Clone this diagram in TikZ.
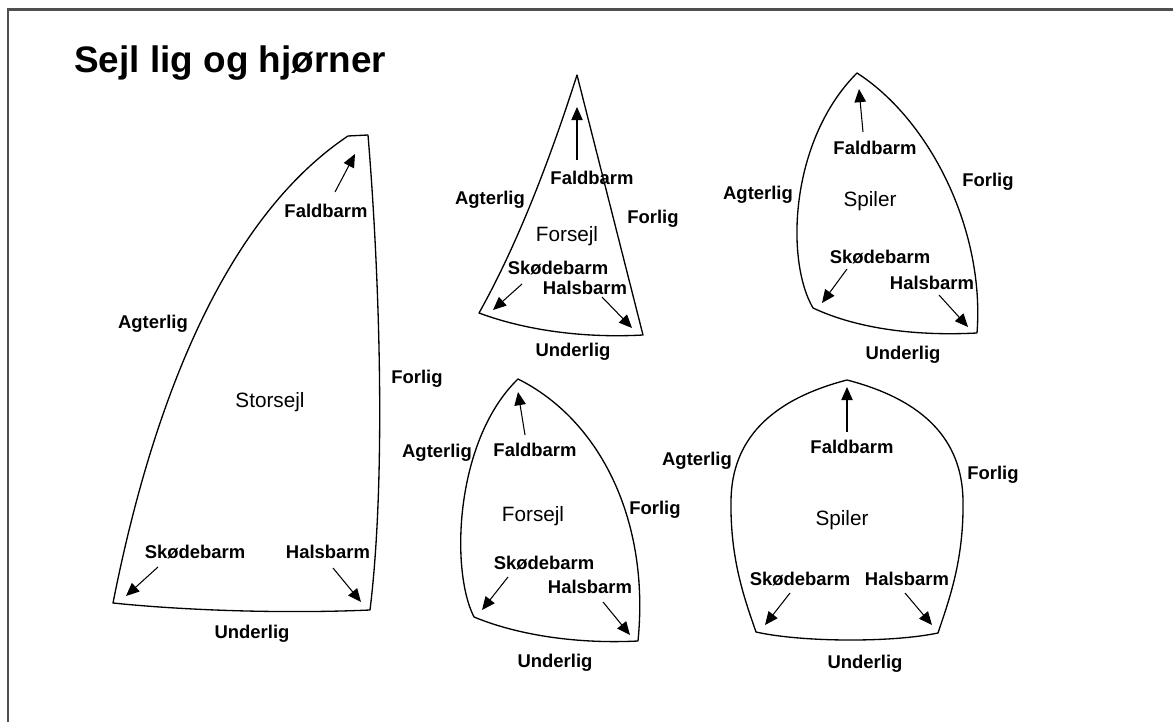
\documentclass[tikz,border=0pt]{standalone}
\usepackage{fontspec}
\setmainfont{Liberation Sans}
\usetikzlibrary{arrows.meta}
\definecolor{rahme}{HTML}{505050}
\tikzset{
  sejl/.style={draw=black, line width=0.75pt, line join=round},
  pil/.style={draw=black, line width=0.6pt, -{Triangle[length=7.5pt,width=6.5pt]}},
  lab/.style={font=\fontsize{10.5}{12}\selectfont\bfseries, inner sep=1pt, text height=7.6pt, text depth=0pt},
  navn/.style={font=\fontsize{11.8}{14}\selectfont, inner sep=1pt, text height=8.5pt, text depth=0pt},
  titel/.style={font=\fontsize{21}{25}\selectfont\bfseries, anchor=base west, inner sep=0pt},
  kant/.style={draw=rahme, line width=1.2pt},
}
\begin{document}
\begin{tikzpicture}[x=0.02cm,y=-0.02cm]
  \useasboundingbox (0,0) rectangle (1173,722);
  \draw[kant] (8,722) -- (8,9.5) -- (1173,9.5);
  \node[titel] (titel) at (74,73) {Sejl lig og hjørner};
  % hjoerner
  \coordinate (st-fb) at (348,136); \coordinate (st-fb2) at (368,135);
  \coordinate (st-hb) at (370,610); \coordinate (st-sb) at (113,603);
  \coordinate (f1-fb) at (577,75);  \coordinate (f1-hb) at (643,335); \coordinate (f1-sb) at (479,313);
  \coordinate (s1-fb) at (857,73);  \coordinate (s1-hb) at (977,333); \coordinate (s1-sb) at (813,308);
  \coordinate (f2-fb) at (518,379); \coordinate (f2-hb) at (638,641); \coordinate (f2-sb) at (474,617);
  \coordinate (s2-fb) at (847,380); \coordinate (s2-hb) at (938,633); \coordinate (s2-sb) at (756,632);
  % sejl
  \draw[sejl] (st-sb) .. controls (155,390) and (230,215) .. (st-fb) -- (st-fb2)
    .. controls (380,280) and (386,480) .. (st-hb) .. controls (280,614) and (180,610) .. (st-sb) -- cycle;
  \draw[sejl] (f1-sb) .. controls (520,240) and (553,150) .. (f1-fb) -- (f1-hb)
    .. controls (590,338) and (530,332) .. (f1-sb) -- cycle;
  \draw[sejl] (s1-sb) .. controls (785,260) and (790,140) .. (s1-fb) .. controls (930,120) and (985,230) .. (s1-hb)
    .. controls (920,336) and (860,330) .. (s1-sb) -- cycle;
  \draw[sejl] (f2-sb) .. controls (450,570) and (455,440) .. (f2-fb) .. controls (600,420) and (650,520) .. (f2-hb)
    .. controls (580,644) and (520,636) .. (f2-sb) -- cycle;
  \draw[sejl] (s2-sb) .. controls (745,600) and (730,560) .. (731,500) .. controls (732,440) and (770,400) .. (s2-fb)
    .. controls (924,400) and (962,440) .. (963,500) .. controls (964,560) and (949,600) .. (s2-hb)
    .. controls (890,643) and (800,642) .. (s2-sb) -- cycle;
  % navne
  \foreach \id/\x/\y/\txt in {st-navn/270/400/Storsejl, f1-navn/567/234/Forsejl, s1-navn/870/199/Spiler,
      f2-navn/533/514/Forsejl, s2-navn/842/518/Spiler}
    \node[navn] (\id) at (\x,\y) {\txt};
  % lig og barme
  \foreach \id/\x/\y/\txt in {
      st-fald/326/211/Faldbarm, st-agter/153/322/Agterlig, st-for/417/377/Forlig,
      st-skoed/195/552/Skødebarm, st-hals/328/552/Halsbarm, st-under/252/632/Underlig,
      f1-fald/592/178/Faldbarm, f1-agter/490/198/Agterlig, f1-for/653/217/Forlig,
      f1-skoed/558/268/Skødebarm, f1-hals/585/288/Halsbarm, f1-under/573/350/Underlig,
      s1-fald/875/148/Faldbarm, s1-agter/758/193/Agterlig, s1-for/988/180/Forlig,
      s1-skoed/880/257/Skødebarm, s1-hals/932/283/Halsbarm, s1-under/903/353/Underlig,
      f2-fald/535/450/Faldbarm, f2-agter/437/451/Agterlig, f2-for/655/508/Forlig,
      f2-skoed/544/563/Skødebarm, f2-hals/590/587/Halsbarm, f2-under/555/661/Underlig,
      s2-fald/852/447/Faldbarm, s2-agter/697/459/Agterlig, s2-for/993/473/Forlig,
      s2-skoed/800/579/Skødebarm, s2-hals/907/579/Halsbarm, s2-under/865/662/Underlig}
    \node[lab] (\id) at (\x,\y) {\txt};
  % pile mod hjoernerne
  \foreach \id/\dx/\dy/\tx/\ty in {
      st-fald/9/-19/355/154, st-skoed/-37/15/126/596, st-hals/5/16/361/602,
      f1-fald/-15/-18/577/107, f1-skoed/-36/16/493/310, f1-hals/17/9/632/328,
      s1-fald/-12/-16/859/89, s1-skoed/-33/12/822/303, s1-hals/7/12/968/327,
      f2-fald/-10/-15/518/392, f2-skoed/-36/14/482/610, f2-hals/13/15/630/635,
      s2-fald/-5/-15/847/387, s2-skoed/-10/14/765/625, s2-hals/-2/14/932/625}{
    \coordinate (\id-spids) at (\tx,\ty);
    \draw[pil] ([shift={(\dx,\dy)}]\id.center) -- (\id-spids);
  }
\end{tikzpicture}
\end{document}
